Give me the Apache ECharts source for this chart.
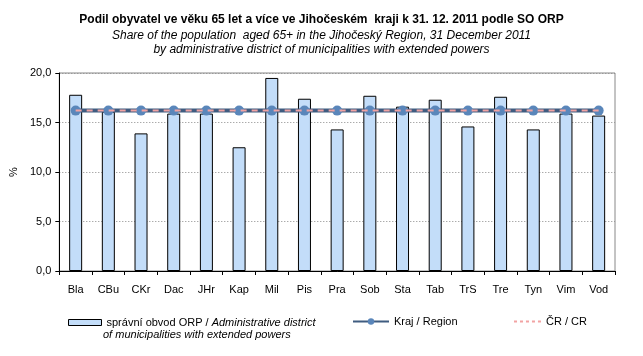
<!DOCTYPE html>
<html><head><meta charset="utf-8">
<script src="https://cdn.jsdelivr.net/npm/echarts@6/dist/echarts.min.js"></script>
<style>html,body{margin:0;padding:0;background:#fff}#c{width:643px;height:356px}</style>
</head><body><div id="c"></div>
<script>
var categories = ['Bla','CBu','CKr','Dac','JHr','Kap','Mil','Pis','Pra','Sob','Sta','Tab','TrS','Tre','Tyn','Vim','Vod'];
var orpValues = [17.8,16.1,13.9,15.9,15.9,12.5,19.5,17.4,14.3,17.7,16.6,17.3,14.6,17.6,14.3,15.9,15.7];
var regionValues = [16.2,16.2,16.2,16.2,16.2,16.2,16.2,16.2,16.2,16.2,16.2,16.2,16.2,16.2,16.2,16.2,16.2];
var crValues = [16.2,16.2,16.2,16.2,16.2,16.2,16.2,16.2,16.2,16.2,16.2,16.2,16.2,16.2,16.2,16.2,16.2];
var yTicks = [0,5,10,15,20];

var F = 'Arial, "Liberation Sans", sans-serif';
var chart = echarts.init(document.getElementById('c'), null, {renderer:'canvas'});
chart.setOption({
  animation:false,
  backgroundColor:'#fff',
  title:{
    left:'center', top:9, itemGap:3,
    text:'Podil obyvatel ve věku 65 let a více ve Jihočeském  kraji k 31. 12. 2011 podle SO ORP',
    subtext:'Share of the population  aged 65+ in the Jihočeský Region, 31 December 2011\nby administrative district of municipalities with extended powers',
    textStyle:{fontFamily:F, fontSize:12, fontWeight:'bold', color:'#000'},
    subtextStyle:{fontFamily:F, fontSize:12, fontStyle:'italic', color:'#000', lineHeight:14}
  },
  grid:{left:57, right:28, top:73, bottom:85, show:true, borderColor:'#888', borderWidth:1, backgroundColor:'transparent'},
  legend:[
    {left:63, top:312, itemWidth:33, itemHeight:6, itemGap:5, icon:'rect',
     data:[{name:'orp', itemStyle:{color:'#C3DDF9', borderColor:'#000', borderWidth:1}}],
     formatter:function(){return '{n|správní obvod ORP / }{i|Administrative district}';},
     textStyle:{fontFamily:F, fontSize:11, color:'#000', rich:{n:{fontFamily:F,fontSize:11,color:'#000'},i:{fontFamily:F,fontSize:11,fontStyle:'italic',color:'#000'}}}},
    {left:347, top:311, itemWidth:36, itemHeight:8, itemGap:7, data:['Kraj / Region'],
     textStyle:{fontFamily:F, fontSize:11, color:'#000'}},
    {left:509, top:311, itemWidth:27, itemHeight:8, itemGap:9,
     data:[{name:'ČR / CR', icon:'path://M0,3H3V5H0Z M6,3H9V5H6Z M12,3H15V5H12Z M18,3H21V5H18Z M24,3H27V5H24Z M0,0H0.01V0.01H0Z M0,8H0.01V8.01H0Z', itemStyle:{color:'#F2A3A3', borderWidth:0}}],
     textStyle:{fontFamily:F, fontSize:11, color:'#000'}}
  ],
  graphic:[
    {type:'text', left:103, top:329, style:{text:'of municipalities with extended powers', font:'italic 11px Arial, "Liberation Sans", sans-serif', fill:'#000'}}
  ],
  xAxis:{
    type:'category', data:categories, boundaryGap:true,
    axisLine:{lineStyle:{color:'#000', width:1}},
    axisTick:{show:true, alignWithLabel:false, length:4, lineStyle:{color:'#000'}},
    axisLabel:{fontFamily:F, fontSize:11, color:'#000', margin:13, interval:0}
  },
  yAxis:{
    type:'value', min:0, max:20, interval:5,
    name:'%', nameLocation:'middle', nameGap:38, nameRotate:90,
    nameTextStyle:{fontFamily:F, fontSize:11, color:'#000'},
    axisLine:{show:true, lineStyle:{color:'#000', width:1}},
    axisTick:{show:true, length:4, lineStyle:{color:'#000'}},
    axisLabel:{fontFamily:F, fontSize:11, color:'#000', margin:8,
      formatter:function(v){return yTicks.indexOf(v)>=0 ? v.toFixed(1).replace('.',',') : '';}},
    splitLine:{show:true, lineStyle:{color:'#888', type:[1,2], width:1}}
  },
  series:[
    {name:'orp', type:'bar', data:orpValues, barWidth:13,
     itemStyle:{color:'#C3DDF9', borderColor:'#000', borderWidth:1}},
    {name:'Kraj / Region', type:'line', data:regionValues, symbol:'circle', symbolSize:10,
     lineStyle:{color:'#3F5C80', width:4}, itemStyle:{color:'#5A86BA'}, z:3},
    {name:'ČR / CR', type:'line', data:crValues, symbol:'none',
     lineStyle:{color:'#F2A3A3', width:2, type:[6,5]}, itemStyle:{color:'#F2A3A3'}, z:4}
  ]
});
</script></body></html>
